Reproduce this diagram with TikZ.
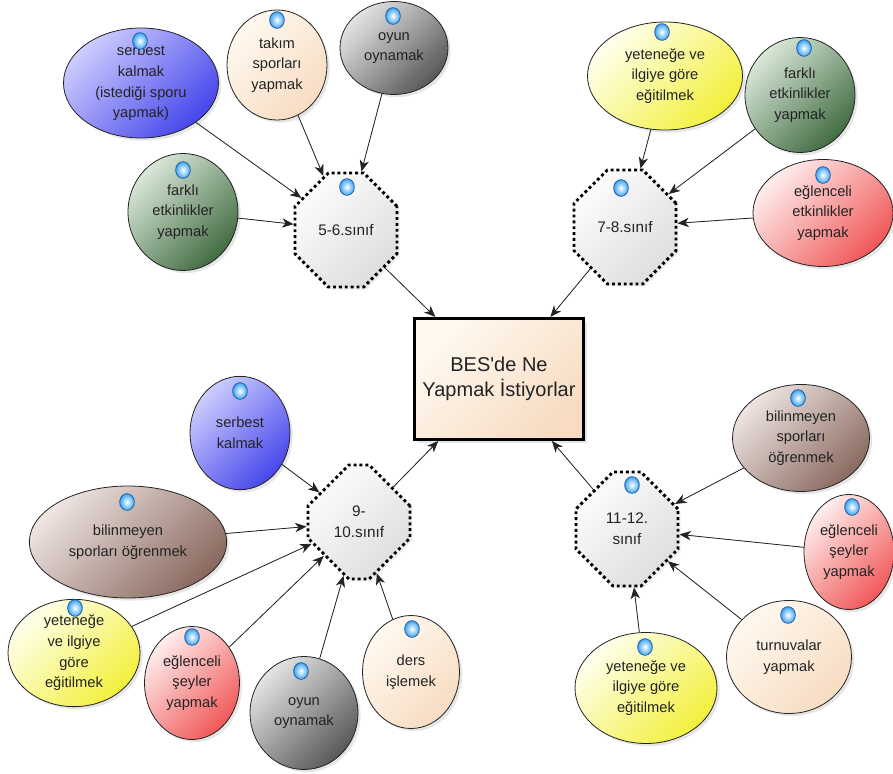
\documentclass[tikz,border=0pt]{standalone}
\usepackage{fontspec}
\setmainfont{Liberation Sans}[Ligatures=TeXOff]
\usepackage{tikz}
\usepackage{xcolor}
\usetikzlibrary{shapes.geometric, shapes.misc, arrows.meta, shadows}
\definecolor{BlueA}{RGB}{205, 205, 255}
\definecolor{BlueB}{RGB}{70, 70, 235}
\definecolor{PeachA}{RGB}{255, 249, 240}
\definecolor{PeachB}{RGB}{247, 220, 194}
\definecolor{GrayA}{RGB}{228, 228, 228}
\definecolor{GrayB}{RGB}{88, 88, 88}
\definecolor{GreenA}{RGB}{218, 232, 218}
\definecolor{GreenB}{RGB}{66, 108, 66}
\definecolor{YellowA}{RGB}{255, 255, 238}
\definecolor{YellowB}{RGB}{242, 240, 60}
\definecolor{RedA}{RGB}{255, 238, 238}
\definecolor{RedB}{RGB}{240, 88, 88}
\definecolor{BrownA}{RGB}{238, 228, 225}
\definecolor{BrownB}{RGB}{138, 106, 96}
\definecolor{OctA}{RGB}{252, 252, 252}
\definecolor{OctB}{RGB}{222, 222, 224}
\definecolor{DotBlue}{RGB}{60, 165, 240}
\definecolor{DotEdge}{RGB}{30, 90, 170}
\definecolor{Ink}{RGB}{35, 35, 35}
\tikzset{
  tint/.style 2 args={top color=#1, bottom color=#2, shading angle=45},
  bubble/.style={ellipse, draw=Ink, line width=0.6pt, inner sep=0pt, align=center,
    font=\fontsize{11}{15.5}\selectfont, text=Ink,
    drop shadow={shadow xshift=2pt, shadow yshift=-2pt, opacity=0.2}},
  grade/.style={chamfered rectangle, chamfered rectangle xsep=21.75pt, chamfered rectangle ysep=21.75pt,
    minimum width=76.5pt, minimum height=85.5pt, inner sep=0pt, align=center,
    draw=black, line width=2.2pt, dash pattern=on 2.2pt off 2.2pt,
    tint={OctA}{OctB}, font=\fontsize{11.5}{15.5}\selectfont, text=Ink,
    drop shadow={shadow xshift=2pt, shadow yshift=-2pt, opacity=0.12}},
  centre/.style={rectangle, draw=black, line width=2.3pt, minimum width=126.75pt, minimum height=90.75pt,
    align=center, font=\fontsize{15}{19}\selectfont, text=Ink, tint={PeachA}{PeachB},
    drop shadow={shadow xshift=2.5pt, shadow yshift=-2.5pt, opacity=0.2}},
  dot/.style={ellipse, minimum width=11pt, minimum height=12.5pt, inner sep=0pt,
    inner color=white, outer color=DotBlue, draw=DotEdge, line width=0.6pt},
  link/.style={-{Stealth[length=8.5pt, width=7pt, inset=2.5pt]}, line width=0.6pt, draw=Ink, fill=Ink},
}
\begin{document}
\begin{tikzpicture}[x=0.75pt, y=-0.75pt]
  \useasboundingbox (0,0) rectangle (893,774);
  %中心
  \node[centre] (bes) at (499,379) {BES'de Ne\\Yapmak İstiyorlar};
  %年级
  \node[grade] (g56) at (346,230) {5-6.sınıf};
  \node[grade] (g78) at (625,227) {7-8.sınıf};
  \node[grade] (g910) at (359,522) {9-\\10.sınıf};
  \node[grade] (g1112) at (627,529) {11-12.\\sınıf};
  %5-6.sınıf
  \node[bubble, tint={BlueA}{BlueB}, minimum width=116.25pt, minimum height=82.5pt] (serbestA) at (141,83) {serbest\\kalmak\\(istediği sporu\\yapmak)};
  \node[bubble, tint={PeachA}{PeachB}, minimum width=75pt, minimum height=82.5pt] (takim) at (277,65) {takım\\sporları\\yapmak};
  \node[bubble, tint={GrayA}{GrayB}, minimum width=81pt, minimum height=69.75pt] (oyunA) at (394,48) {oyun\\oynamak};
  \node[bubble, tint={GreenA}{GreenB}, minimum width=82.5pt, minimum height=87.75pt] (farkliA) at (183,212) {farklı\\etkinlikler\\yapmak};
  %7-8.sınıf
  \node[bubble, tint={YellowA}{YellowB}, minimum width=116.25pt, minimum height=81pt] (yetenekA) at (665,76) {yeteneğe ve\\ilgiye göre\\eğitilmek};
  \node[bubble, tint={GreenA}{GreenB}, minimum width=82.5pt, minimum height=86.25pt] (farkliB) at (800,95) {farklı\\etkinlikler\\yapmak};
  \node[bubble, tint={RedA}{RedB}, minimum width=105pt, minimum height=80.25pt] (eglenceA) at (823,213) {eğlenceli\\etkinlikler\\yapmak};
  %9-10.sınıf
  \node[bubble, tint={BlueA}{BlueB}, minimum width=75pt, minimum height=85pt] (serbestB) at (240,433) {serbest\\kalmak};
  \node[bubble, tint={BrownA}{BrownB}, minimum width=148pt, minimum height=84pt] (bilinmeyenA) at (128,542) {bilinmeyen\\sporları öğrenmek};
  \node[bubble, tint={YellowA}{YellowB}, minimum width=99pt, minimum height=80.25pt] (yetenekB) at (74,653) {yeteneğe\\ve ilgiye\\göre\\eğitilmek};
  \node[bubble, tint={RedA}{RedB}, minimum width=71.25pt, minimum height=84.75pt] (eglenceB) at (192,683) {eğlenceli\\şeyler\\yapmak};
  \node[bubble, tint={GrayA}{GrayB}, minimum width=81pt, minimum height=84.75pt] (oyunB) at (304,713) {oyun\\oynamak};
  \node[bubble, tint={PeachA}{PeachB}, minimum width=72.75pt, minimum height=84.75pt] (ders) at (411,672) {ders\\işlemek};
  %11-12.sınıf
  \node[bubble, tint={BrownA}{BrownB}, minimum width=102.75pt, minimum height=80.25pt] (bilinmeyenB) at (801,438) {bilinmeyen\\sporları\\öğrenmek};
  \node[bubble, tint={RedA}{RedB}, minimum width=67.5pt, minimum height=86.25pt] (eglenceC) at (849,552) {eğlenceli\\şeyler\\yapmak};
  \node[bubble, tint={PeachA}{PeachB}, minimum width=93.75pt, minimum height=84.75pt] (turnuva) at (789,657) {turnuvalar\\yapmak};
  \node[bubble, tint={YellowA}{YellowB}, minimum width=106.5pt, minimum height=83.25pt] (yetenekC) at (646,688) {yeteneğe ve\\ilgiye göre\\eğitilmek};
  %小圆点
  \foreach \p [count=\i] in {(140,41),(277,20),(393,16),(183,170),(662,32),(804,48),(823,175),
      (240,391),(127,502),(75,608),(192,637),(301,671),(412,629),(798,398),(852,507),(788,615),(645,647),
      (347,187),(621,188),(632,485)}
    \node[dot] (dot\i) at \p {};
  %箭头
  \draw[link] (serbestA) -- (g56);
  \draw[link] (takim) -- (g56);
  \draw[link] (oyunA) -- (g56);
  \draw[link] (farkliA) -- (g56);
  \draw[link] (yetenekA) -- (g78);
  \draw[link] (farkliB) -- (g78);
  \draw[link] (eglenceA) -- (g78);
  \draw[link] (serbestB) -- (g910);
  \draw[link] (bilinmeyenA) -- (g910);
  \draw[link] (yetenekB) -- (g910);
  \draw[link] (eglenceB) -- (g910);
  \draw[link] (oyunB) -- (g910);
  \draw[link] (ders) -- (g910);
  \draw[link] (bilinmeyenB) -- (g1112);
  \draw[link] (eglenceC) -- (g1112);
  \draw[link] (turnuva) -- (g1112);
  \draw[link] (yetenekC) -- (g1112);
  \draw[link] (g56) -- (bes);
  \draw[link] (g78) -- (bes);
  \draw[link] (g910) -- (bes);
  \draw[link] (g1112) -- (bes);
\end{tikzpicture}
\end{document}
